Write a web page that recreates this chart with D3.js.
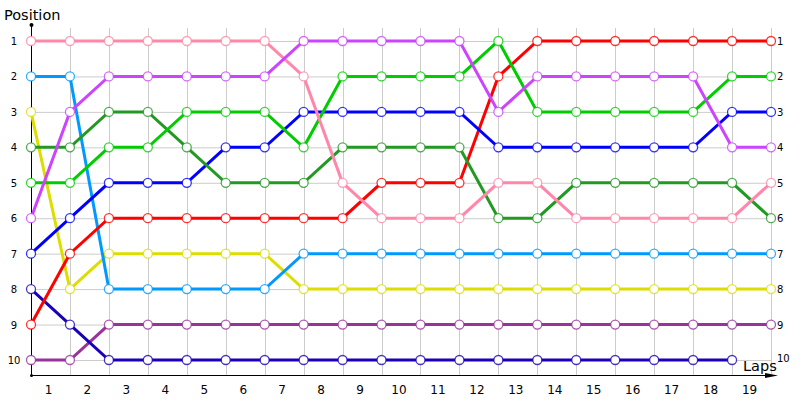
<!DOCTYPE html>
<html>
<head>
<meta charset="utf-8">
<script src="https://cdn.jsdelivr.net/npm/d3@7"></script>
<style>
  body { margin: 0; background: #fff; }
  text { font-family: Tahoma, "DejaVu Sans", sans-serif; }
</style>
</head>
<body>
<div id="main"></div>
<script>
var lap_labels = d3.range(1, 20)
var positions = d3.range(1, 11)

// position after each lap boundary, one array per driver
var pink = [1, 1, 1, 1, 1, 1, 1, 2, 5, 6, 6, 6, 5, 5, 6, 6, 6, 6, 6, 5]
var light_blue = [2, 2, 8, 8, 8, 8, 8, 7, 7, 7, 7, 7, 7, 7, 7, 7, 7, 7, 7, 7]
var yellow = [3, 8, 7, 7, 7, 7, 7, 8, 8, 8, 8, 8, 8, 8, 8, 8, 8, 8, 8, 8]
var dark_green = [4, 4, 3, 3, 4, 5, 5, 5, 4, 4, 4, 4, 6, 6, 5, 5, 5, 5, 5, 6]
var green = [5, 5, 4, 4, 3, 3, 3, 4, 2, 2, 2, 2, 1, 3, 3, 3, 3, 3, 2, 2]
var magenta = [6, 3, 2, 2, 2, 2, 2, 1, 1, 1, 1, 1, 3, 2, 2, 2, 2, 2, 4, 4]
var blue = [7, 6, 5, 5, 5, 4, 4, 3, 3, 3, 3, 3, 4, 4, 4, 4, 4, 4, 3, 3]
var navy = [8, 9, 10, 10, 10, 10, 10, 10, 10, 10, 10, 10, 10, 10, 10, 10, 10, 10, 10]
var red = [9, 7, 6, 6, 6, 6, 6, 6, 6, 5, 5, 5, 2, 1, 1, 1, 1, 1, 1, 1]
var purple = [10, 10, 9, 9, 9, 9, 9, 9, 9, 9, 9, 9, 9, 9, 9, 9, 9, 9, 9, 9]

var drivers = [
  { pos: purple, color: '#993399' },
  { pos: navy, color: '#1a00b8' },
  { pos: yellow, color: '#dddd00' },
  { pos: light_blue, color: '#0099ff' },
  { pos: red, color: '#ff0000' },
  { pos: blue, color: '#0000ff' },
  { pos: dark_green, color: '#229922' },
  { pos: green, color: '#00cc00' },
  { pos: pink, color: '#ff88aa' },
  { pos: magenta, color: '#cc44ff' }
]

var w = 800
var h = 400
var svg = d3.select('div#main').append('svg')
  .attr('width', w)
  .attr('height', h)
  .style('display', 'block')

var x = d3.scaleLinear().domain([0, 19]).range([31, 771])
var y = d3.scaleLinear().domain([1, 10]).range([41, 360])

// grid
svg.append('g').selectAll('line.h')
  .data(positions).enter().append('line')
  .attr('x1', x(0)).attr('x2', x(19))
  .attr('y1', function (d) { return y(d) + 0.5 })
  .attr('y2', function (d) { return y(d) + 0.5 })
  .attr('stroke', '#cccccc')
svg.append('g').selectAll('line.v')
  .data(d3.range(1, 20)).enter().append('line')
  .attr('x1', function (d) { return Math.round(x(d)) + 0.5 })
  .attr('x2', function (d) { return Math.round(x(d)) + 0.5 })
  .attr('y1', 28).attr('y2', 375)
  .attr('stroke', '#cccccc')

// axes
svg.append('line').attr('x1', 31.5).attr('x2', 31.5).attr('y1', 25).attr('y2', 375)
  .attr('stroke', '#000')
svg.append('line').attr('x1', 31).attr('x2', 770).attr('y1', 375.5).attr('y2', 375.5)
  .attr('stroke', '#000')
svg.append('path').attr('d', 'M765,373 L778,375.5 L765,378 Z').attr('fill', '#000')
svg.append('circle').attr('cx', 31.5).attr('cy', 25).attr('r', 2).attr('fill', '#000')
svg.append('circle').attr('cx', 31.5).attr('cy', 375.5).attr('r', 1.5).attr('fill', '#000')

svg.append('text').text('Position')
  .attr('x', 4).attr('y', 20)
  .style('font-size', '14.5px')
svg.append('text').text('Laps')
  .attr('x', 743).attr('y', 371)
  .style('font-size', '14.5px')

// left and right position labels
svg.append('g').selectAll('text')
  .data(positions).enter().append('text')
  .text(function (d) { return d })
  .attr('x', 14).attr('y', function (d) { return y(d) + 4 })
  .attr('text-anchor', 'middle')
  .style('font-size', '10px')
svg.append('g').selectAll('text')
  .data(positions).enter().append('text')
  .text(function (d) { return d })
  .attr('x', 777)
  .attr('y', function (d) { return d === 10 ? y(d) + 2 : y(d) + 4 })
  .style('font-size', '10px')

// lap labels
svg.append('g').selectAll('text')
  .data(lap_labels).enter().append('text')
  .text(function (d) { return d })
  .attr('x', function (d) { return x(d - 0.5) - 2 })
  .attr('y', 394)
  .attr('text-anchor', 'middle')
  .style('font-size', '12px')

var line = d3.line()
  .x(function (d, i) { return x(i) })
  .y(function (d) { return y(d) })

drivers.forEach(function (dr) {
  svg.append('path')
    .attr('d', line(dr.pos))
    .attr('fill', 'none')
    .attr('stroke', dr.color)
    .attr('stroke-width', 3)
  svg.append('g').selectAll('circle')
    .data(dr.pos).enter().append('circle')
    .attr('cx', function (d, i) { return x(i) })
    .attr('cy', function (d) { return y(d) })
    .attr('r', 4.5)
    .attr('fill', '#fff')
    .attr('stroke', dr.color)
    .attr('stroke-opacity', 0.8)
    .attr('stroke-width', 1.3)
})
</script>
</body>
</html>
